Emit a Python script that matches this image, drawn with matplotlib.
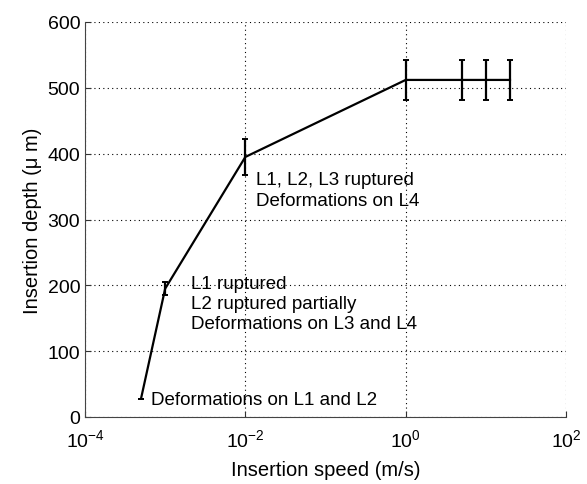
import matplotlib
matplotlib.use('Agg')
import matplotlib.pyplot as plt
import numpy as np

plt.rcParams['font.family'] = ['Liberation Sans', 'DejaVu Sans']

speed = [5e-4, 1e-3, 1e-2, 1, 5, 10, 20]
depth = [28, 195, 395, 512, 512, 512, 512]
err = [0, 10, 28, 30, 30, 30, 30]

notes = ['Deformations on L1 and L2',
         'L1 ruptured\nL2 ruptured partially\nDeformations on L3 and L4',
         'L1, L2, L3 ruptured\nDeformations on L4']
note_x = [6.6e-4, 2.1e-3, 1.35e-2]
note_y = [40, 216, 373]

fig = plt.figure(figsize=(5.87, 4.85), dpi=100)
ax = fig.add_axes([85 / 587, 67 / 485, 481 / 587, 395 / 485])

ax.errorbar(speed, depth, yerr=err, color='k', lw=1.6, elinewidth=1.6,
            capsize=2.5, capthick=1.4)

for t, x, y in zip(notes, note_x, note_y):
    ax.text(x, y, t, fontsize=13.5, va='top', ha='left', linespacing=1.25)

ax.set_xscale('log')
ax.set_xlim(1e-4, 1e2)
ax.set_ylim(0, 600)
ax.set_xticks([1e-4, 1e-2, 1e0, 1e2])
ax.set_xticklabels(['$\\mathregular{10^{-4}}$', '$\\mathregular{10^{-2}}$',
                    '$\\mathregular{10^{0}}$', '$\\mathregular{10^{2}}$'])
ax.xaxis.set_minor_locator(matplotlib.ticker.NullLocator())
ax.set_yticks(np.arange(0, 601, 100))
ax.grid(True, linestyle=(0, (1, 3)), color='k', lw=0.8)
ax.tick_params(labelsize=14, direction='in', length=4, colors='#333333',
               labelcolor='k')
ax.tick_params(axis='x', pad=8)
for s in ['top', 'right']:
    ax.spines[s].set_visible(False)
for s in ['left', 'bottom']:
    ax.spines[s].set_color('#444444')
ax.set_xlabel('Insertion speed (m/s)', fontsize=14.5, labelpad=7)
ax.set_ylabel('Insertion depth (\u03bc m)', fontsize=14.5, labelpad=4)

fig.savefig('out.png', dpi=100)
